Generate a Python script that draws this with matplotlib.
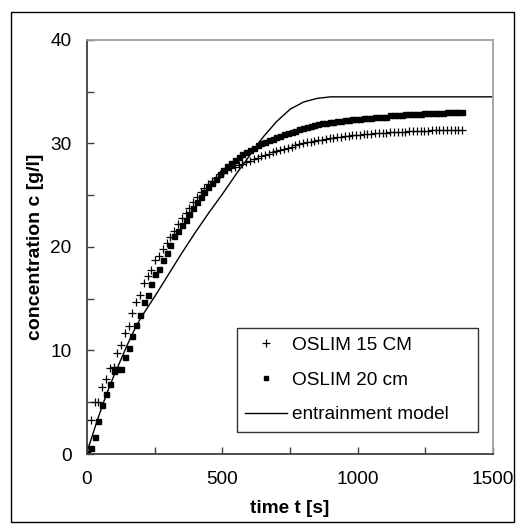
import matplotlib
matplotlib.use('Agg')
import matplotlib.pyplot as plt
from matplotlib.patches import Rectangle
from matplotlib.ticker import MultipleLocator

plt.rcParams['font.family'] = ['Liberation Sans', 'DejaVu Sans']

# measurement times [s] (sampling ~14 s)
time_s = [0, 14, 28, 42, 56, 70, 84, 98, 112, 126, 140, 154, 168, 182, 196, 210,
          224, 238, 252, 266, 280, 294, 308, 322, 336, 350, 364, 378, 392, 406, 420,
          434, 448, 462, 476, 490, 504, 518, 532, 546, 560, 574, 588, 602, 616, 630,
          644, 658, 672, 686, 700, 714, 728, 742, 756, 770, 784, 798, 812, 826, 840,
          854, 868, 882, 896, 910, 924, 938, 952, 966, 980, 994, 1008, 1022, 1036,
          1050, 1064, 1078, 1092, 1106, 1120, 1134, 1148, 1162, 1176, 1190, 1204,
          1218, 1232, 1246, 1260, 1274, 1288, 1302, 1316, 1330, 1344, 1358, 1372, 1386]

# OSLIM 15 CM
conc_15 = [0.7, 3.3, 5.0, 5.0, 6.5, 7.2, 8.3, 8.4, 9.8, 10.5, 11.7, 12.4, 13.6, 14.7,
           15.4, 16.5, 17.2, 17.8, 18.7, 19.1, 19.8, 20.4, 21.0, 21.5, 22.2, 22.8,
           23.3, 23.8, 24.3, 24.8, 25.3, 25.7, 26.1, 26.4, 26.7, 27.0, 27.2, 27.4,
           27.6, 27.7, 27.9, 28.0, 28.2, 28.3, 28.5, 28.6, 28.8, 28.9, 29.0, 29.2,
           29.3, 29.4, 29.5, 29.6, 29.7, 29.8, 29.9, 30.0, 30.1, 30.1, 30.2, 30.3,
           30.3, 30.4, 30.5, 30.5, 30.6, 30.6, 30.7, 30.7, 30.8, 30.8, 30.8, 30.9,
           30.9, 30.9, 31.0, 31.0, 31.0, 31.0, 31.1, 31.1, 31.1, 31.1, 31.1, 31.2,
           31.2, 31.2, 31.2, 31.2, 31.2, 31.3, 31.3, 31.3, 31.3, 31.3, 31.3, 31.3,
           31.3, 31.3]

# OSLIM 20 cm
conc_20 = [0.1, 0.6, 1.6, 3.2, 4.7, 5.8, 6.8, 8.0, 8.2, 8.2, 9.4, 10.2, 11.4, 12.5,
           13.4, 14.7, 15.4, 16.4, 17.4, 17.9, 18.7, 19.4, 20.2, 21.1, 21.5, 22.1,
           22.6, 23.2, 23.8, 24.3, 24.8, 25.3, 25.8, 26.2, 26.6, 27.0, 27.4, 27.8,
           28.1, 28.4, 28.7, 29.0, 29.2, 29.4, 29.6, 29.8, 30.0, 30.1, 30.3, 30.4,
           30.6, 30.7, 30.9, 31.0, 31.1, 31.2, 31.4, 31.5, 31.6, 31.7, 31.8, 31.9,
           32.0, 32.0, 32.1, 32.1, 32.2, 32.2, 32.3, 32.3, 32.4, 32.4, 32.4, 32.5,
           32.5, 32.5, 32.6, 32.6, 32.6, 32.6, 32.7, 32.7, 32.7, 32.7, 32.8, 32.8,
           32.8, 32.8, 32.8, 32.9, 32.9, 32.9, 32.9, 32.9, 32.9, 33.0, 33.0, 33.0,
           33.0, 33.0]

# entrainment model
model_t = [0, 20, 40, 60, 80, 100, 125, 150, 175, 200, 250, 300, 350, 400, 450, 500,
           550, 600, 650, 700, 750, 800, 850, 900, 950, 1000, 1500]
model_c = [0.2, 1.8, 3.4, 4.9, 6.3, 7.6, 9.1, 10.6, 12.0, 13.2, 15.2, 17.3, 19.4,
           21.4, 23.3, 25.1, 27.0, 28.8, 30.6, 32.1, 33.3, 34.0, 34.35, 34.5, 34.5,
           34.5, 34.5]

fig = plt.figure(figsize=(5.24, 5.32), dpi=100)
ax = fig.add_axes([0.166, 0.1466, 0.775, 0.7784])

ax.plot(time_s, conc_15, linestyle='none', marker='+', markersize=6,
        markeredgewidth=0.9, color='black', label='OSLIM 15 CM')
ax.plot(time_s, conc_20, linestyle='none', marker='s', markersize=3.6,
        color='black', label='OSLIM 20 cm')
ax.plot(model_t, model_c, color='black', linewidth=1.0, label='entrainment model')

ax.set_xlim(0, 1500)
ax.set_ylim(0, 40)
ax.xaxis.set_major_locator(MultipleLocator(500))
ax.xaxis.set_minor_locator(MultipleLocator(250))
ax.yaxis.set_major_locator(MultipleLocator(10))
ax.yaxis.set_minor_locator(MultipleLocator(5))
ax.tick_params(which='both', direction='in', length=5, width=1, color='#404040',
               labelsize=13.7, top=False, right=False)
ax.tick_params(axis='x', pad=12)
ax.tick_params(axis='y', pad=11)

for side in ['left', 'bottom']:
    ax.spines[side].set_color('#404040')
    ax.spines[side].set_linewidth(1.3)
for side in ['top', 'right']:
    ax.spines[side].set_color('#a0a0a0')
    ax.spines[side].set_linewidth(1.3)

ax.set_xlabel('time t [s]', fontsize=13.7, fontweight='bold', labelpad=9)
ax.set_ylabel('concentration c [g/l]', fontsize=14, fontweight='bold', labelpad=5)

leg = ax.legend(loc='lower left', bbox_to_anchor=(0.369, 0.053, 0.594, 0.259),
                mode='expand', borderaxespad=0, fontsize=13.7, frameon=True,
                fancybox=False, edgecolor='black', handlelength=2.2,
                handletextpad=0.25, labelspacing=0.92, borderpad=0.45,
                markerscale=0.85)
leg.get_frame().set_linewidth(1.0)

# outer chart border
fig.patches.append(Rectangle((0.021, 0.019), 0.96, 0.958, transform=fig.transFigure,
                             fill=False, edgecolor='black', linewidth=1.0))

plt.savefig('out.png', dpi=100)
